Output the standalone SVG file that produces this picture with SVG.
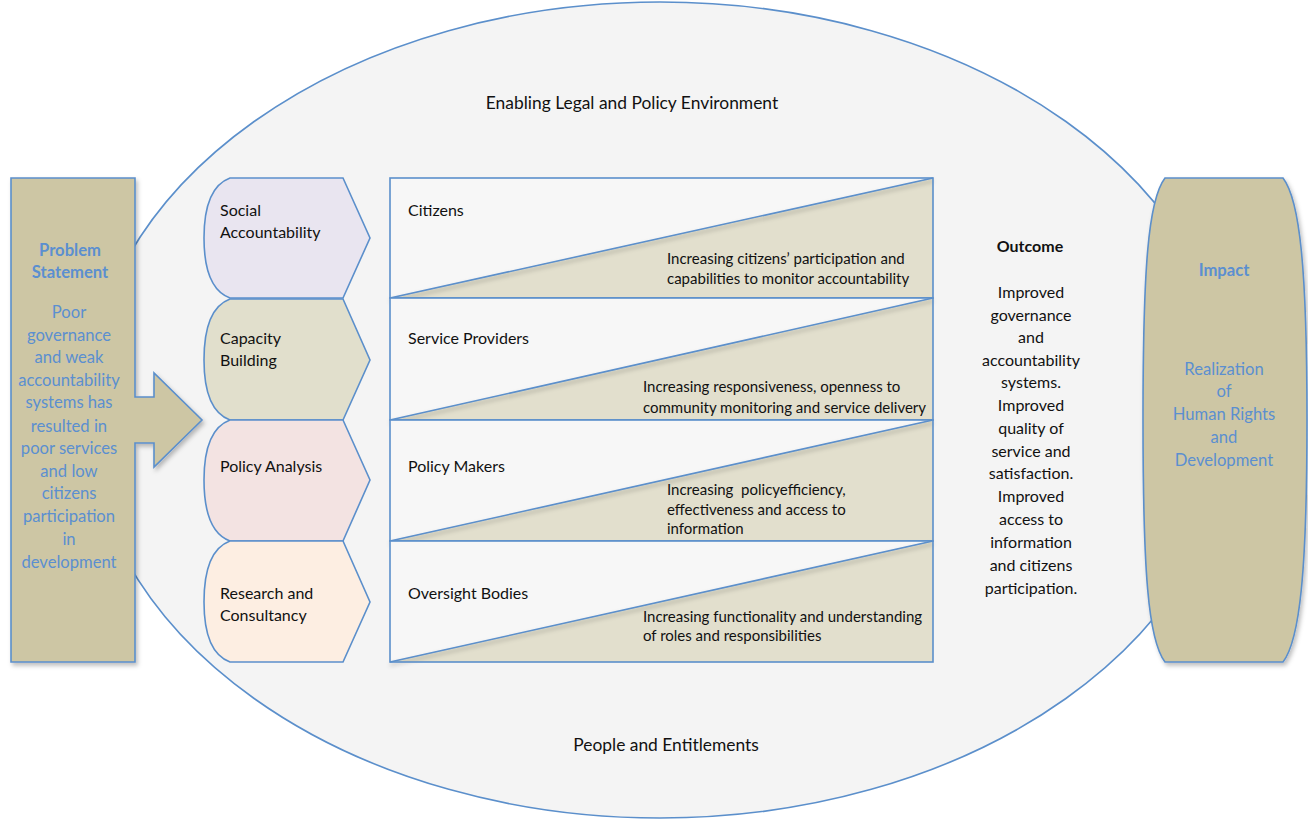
<svg xmlns="http://www.w3.org/2000/svg" width="1308" height="822" viewBox="0 0 1308 822">
  <defs>
    <filter id="shadow" x="-10%" y="-10%" width="130%" height="130%">
      <feDropShadow dx="2" dy="3" stdDeviation="2" flood-color="#000" flood-opacity="0.25"/>
    </filter>
    <filter id="lineShadow" x="-5%" y="-50%" width="110%" height="200%">
      <feDropShadow dx="0" dy="3" stdDeviation="2" flood-color="#000" flood-opacity="0.3"/>
    </filter>
  </defs>
  <style>
    .edge { stroke: #5b8fcb; stroke-width: 1.6; }
    .t { font-family: Lato, "Liberation Sans", sans-serif; font-size: 16px; fill: #111; }
    .tl { font-family: Lato, "Liberation Sans", sans-serif; font-size: 17.4px; fill: #111; }
    .ts { font-family: Lato, "Liberation Sans", sans-serif; font-size: 15px; fill: #111; }
    .blue { fill: #5b8fd0; text-anchor: middle; font-size: 16.6px; }
    .bold { font-weight: bold; }
    .mid { text-anchor: middle; }
    .khaki { fill: #cdc6a4; }
    .band-top { fill: #f7f7f7; }
    .band-low { fill: #e2dfcd; }
  </style>

  <rect width="1308" height="822" fill="#ffffff"/>

  <!-- Outer environment ellipse -->
  <g id="environment">
    <ellipse cx="660" cy="410" rx="574" ry="408" fill="#f4f4f4" class="edge"/>
    <text class="tl mid" x="632" y="109">Enabling Legal and Policy Environment</text>
    <text class="tl mid" x="666" y="751">People and Entitlements</text>
  </g>

  <!-- Problem statement box with arrow -->
  <g id="problem">
    <path class="khaki edge" filter="url(#shadow)" d="M11,178 L135,178 L135,397 L154,397 L154,373 L202,420 L154,467 L154,443 L135,443 L135,662 L11,662 Z"/>
    <text class="t blue bold" x="70" y="256">Problem</text>
    <text class="t blue bold" x="70" y="278">Statement</text>
    <text class="t blue" x="69" y="318">Poor</text>
    <text class="t blue" x="69" y="341">governance</text>
    <text class="t blue" x="69" y="363">and weak</text>
    <text class="t blue" x="69" y="386">accountability</text>
    <text class="t blue" x="69" y="408">systems has</text>
    <text class="t blue" x="69" y="432">resulted in</text>
    <text class="t blue" x="69" y="454">poor services</text>
    <text class="t blue" x="69" y="477">and low</text>
    <text class="t blue" x="69" y="499">citizens</text>
    <text class="t blue" x="69" y="522">participation</text>
    <text class="t blue" x="69" y="545">in</text>
    <text class="t blue" x="69" y="568">development</text>
  </g>

  <!-- Strategy chevrons -->
  <g id="social-accountability">
    <path class="edge" fill="#e9e5f0" d="M343,178 L370,238 L343,298 L230,298 C211,291 204,268 204,238 C204,208 211,185 230,178 Z"/>
    <text class="t" x="220" y="216">Social</text>
    <text class="t" x="220" y="238">Accountability</text>
  </g>
  <g id="capacity-building">
    <path class="edge" fill="#e1dfcc" d="M343,299 L370,360 L343,420 L230,420 C211,413 204,390 204,360 C204,330 211,306 230,299 Z"/>
    <text class="t" x="220" y="344">Capacity</text>
    <text class="t" x="220" y="366">Building</text>
  </g>
  <g id="policy-analysis">
    <path class="edge" fill="#f3e3e2" d="M343,420 L370,480 L343,541 L230,541 C211,534 204,511 204,480 C204,450 211,427 230,420 Z"/>
    <text class="t" x="220" y="472">Policy Analysis</text>
  </g>
  <g id="research-consultancy">
    <path class="edge" fill="#fdeee2" d="M343,541 L370,602 L343,662 L230,662 C211,655 204,632 204,602 C204,572 211,548 230,541 Z"/>
    <text class="t" x="220" y="599">Research and</text>
    <text class="t" x="220" y="621">Consultancy</text>
  </g>

  <!-- Stakeholder bands -->
  <g id="citizens">
    <rect x="390" y="178" width="543" height="120" class="band-top"/>
    <polygon points="390,298 933,178 933,298" class="band-low"/>
    <line x1="390" y1="298" x2="933" y2="178" class="edge" stroke-width="2.2" filter="url(#lineShadow)"/>
    <rect x="390" y="178" width="543" height="120" fill="none" class="edge"/>
    <text class="t" x="408" y="216">Citizens</text>
    <text class="ts" x="667" y="264">Increasing citizens’ participation and</text>
    <text class="ts" x="667" y="284">capabilities to monitor accountability</text>
  </g>
  <g id="service-providers">
    <rect x="390" y="298" width="543" height="122" class="band-top"/>
    <polygon points="390,420 933,298 933,420" class="band-low"/>
    <line x1="390" y1="420" x2="933" y2="298" class="edge" stroke-width="2.2" filter="url(#lineShadow)"/>
    <rect x="390" y="298" width="543" height="122" fill="none" class="edge"/>
    <text class="t" x="408" y="344">Service Providers</text>
    <text class="ts" x="643" y="392">Increasing responsiveness, openness to</text>
    <text class="ts" x="643" y="413">community monitoring and service delivery</text>
  </g>
  <g id="policy-makers">
    <rect x="390" y="420" width="543" height="121" class="band-top"/>
    <polygon points="390,541 933,420 933,541" class="band-low"/>
    <line x1="390" y1="541" x2="933" y2="420" class="edge" stroke-width="2.2" filter="url(#lineShadow)"/>
    <rect x="390" y="420" width="543" height="121" fill="none" class="edge"/>
    <text class="t" x="408" y="472">Policy Makers</text>
    <text class="ts" x="667" y="495" xml:space="preserve">Increasing  policyefficiency,</text>
    <text class="ts" x="667" y="515">effectiveness and access to</text>
    <text class="ts" x="667" y="534">information</text>
  </g>
  <g id="oversight-bodies">
    <rect x="390" y="541" width="543" height="121" class="band-top"/>
    <polygon points="390,662 933,541 933,662" class="band-low"/>
    <line x1="390" y1="662" x2="933" y2="541" class="edge" stroke-width="2.2" filter="url(#lineShadow)"/>
    <rect x="390" y="541" width="543" height="121" fill="none" class="edge"/>
    <text class="t" x="408" y="599">Oversight Bodies</text>
    <text class="ts" x="643" y="622">Increasing functionality and understanding</text>
    <text class="ts" x="643" y="641">of roles and responsibilities</text>
  </g>

  <!-- Outcome -->
  <g id="outcome">
    <text class="t mid bold" x="1030" y="252">Outcome</text>
    <text class="t mid" x="1031" y="298">Improved</text>
    <text class="t mid" x="1031" y="321">governance</text>
    <text class="t mid" x="1031" y="343">and</text>
    <text class="t mid" x="1031" y="366">accountability</text>
    <text class="t mid" x="1031" y="388">systems.</text>
    <text class="t mid" x="1031" y="411">Improved</text>
    <text class="t mid" x="1031" y="434">quality of</text>
    <text class="t mid" x="1031" y="457">service and</text>
    <text class="t mid" x="1031" y="479">satisfaction.</text>
    <text class="t mid" x="1031" y="502">Improved</text>
    <text class="t mid" x="1031" y="525">access to</text>
    <text class="t mid" x="1031" y="548">information</text>
    <text class="t mid" x="1031" y="571">and citizens</text>
    <text class="t mid" x="1031" y="594">participation.</text>
  </g>

  <!-- Impact -->
  <g id="impact">
    <path class="khaki edge" filter="url(#shadow)" d="M1165,178 L1283,178 C1300,200 1307,270 1307,420 C1307,570 1300,640 1283,662 L1165,662 C1148,640 1143,570 1143,420 C1143,270 1148,200 1165,178 Z"/>
    <text class="t blue bold" x="1224" y="276">Impact</text>
    <text class="t blue" x="1224" y="375">Realization</text>
    <text class="t blue" x="1224" y="397">of</text>
    <text class="t blue" x="1224" y="420">Human Rights</text>
    <text class="t blue" x="1224" y="443">and</text>
    <text class="t blue" x="1224" y="466">Development</text>
  </g>
</svg>
